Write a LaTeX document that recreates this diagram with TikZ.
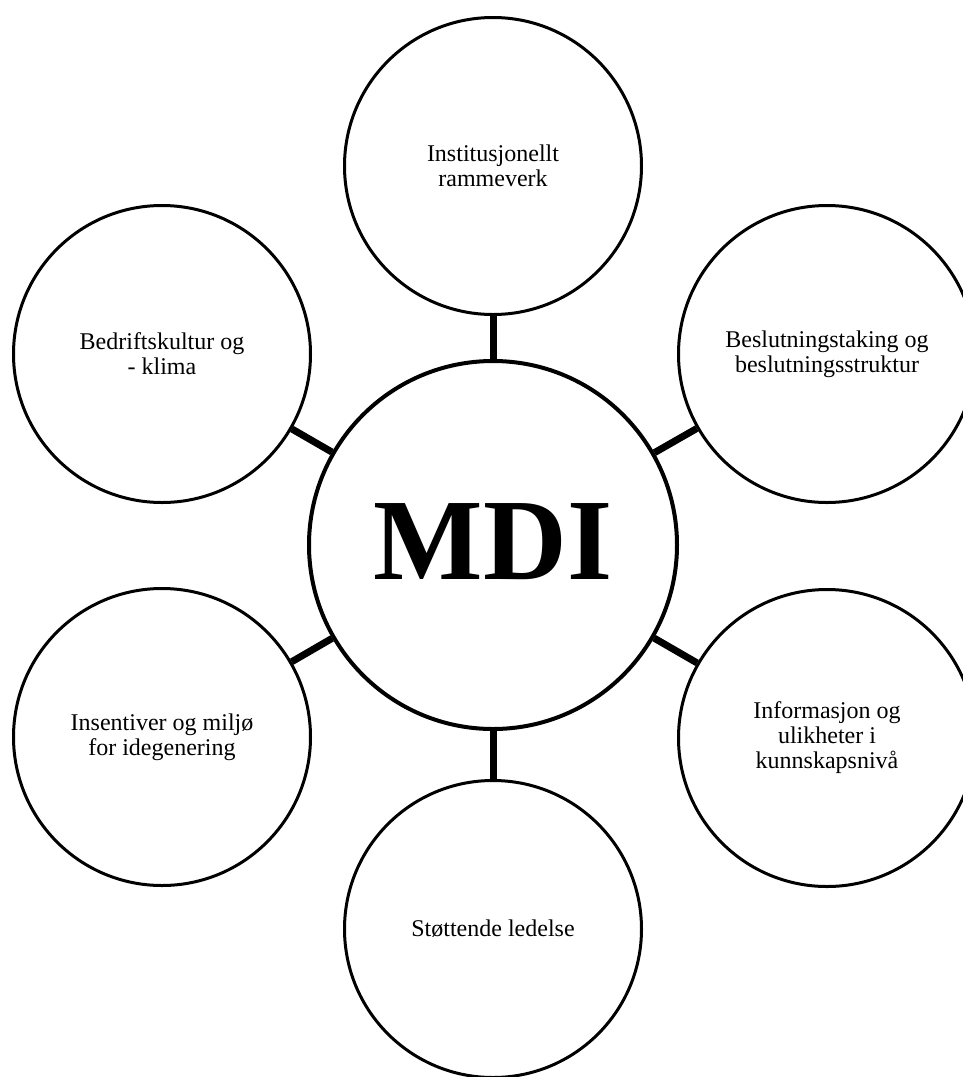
\documentclass[tikz,border=0pt]{standalone}
\usepackage{fontspec}
\setmainfont{Liberation Serif}
\begin{document}
\begin{tikzpicture}[x=1pt,y=-1pt,
  topic/.style={circle, draw, line width=3pt, minimum size=297pt, inner sep=0pt,
                align=center, font=\fontsize{24}{25}\selectfont},
  hub/.style={circle, draw, line width=4pt, minimum size=368pt, inner sep=0pt,
              font=\bfseries\fontsize{116}{116}\selectfont, text depth=7pt},
  link/.style={line width=7pt}]
\clip (0,0) rectangle (963,1077);
\fill[white] (0,0) rectangle (963,1077);

% central hub
\node[hub] (mdi) at (493,545) {MDI};

% surrounding factors
\node[topic] (inst) at (493,166) {Institusjonellt\\rammeverk};
\node[topic] (besl) at (827,354) {Beslutningstaking og\\beslutningsstruktur};
\node[topic] (info) at (827,738) {Informasjon og\\ulikheter i\\kunnskapsnivå};
\node[topic] (stot) at (493,929) {Støttende ledelse};
\node[topic] (ins)  at (162,737) {Insentiver og miljø\\for idegenering};
\node[topic] (bedr) at (162,354) {Bedriftskultur og\\- klima};

% spokes
\foreach \n in {inst,besl,info,stot,ins,bedr}
  \draw[link] (mdi) -- (\n);
\end{tikzpicture}
\end{document}
